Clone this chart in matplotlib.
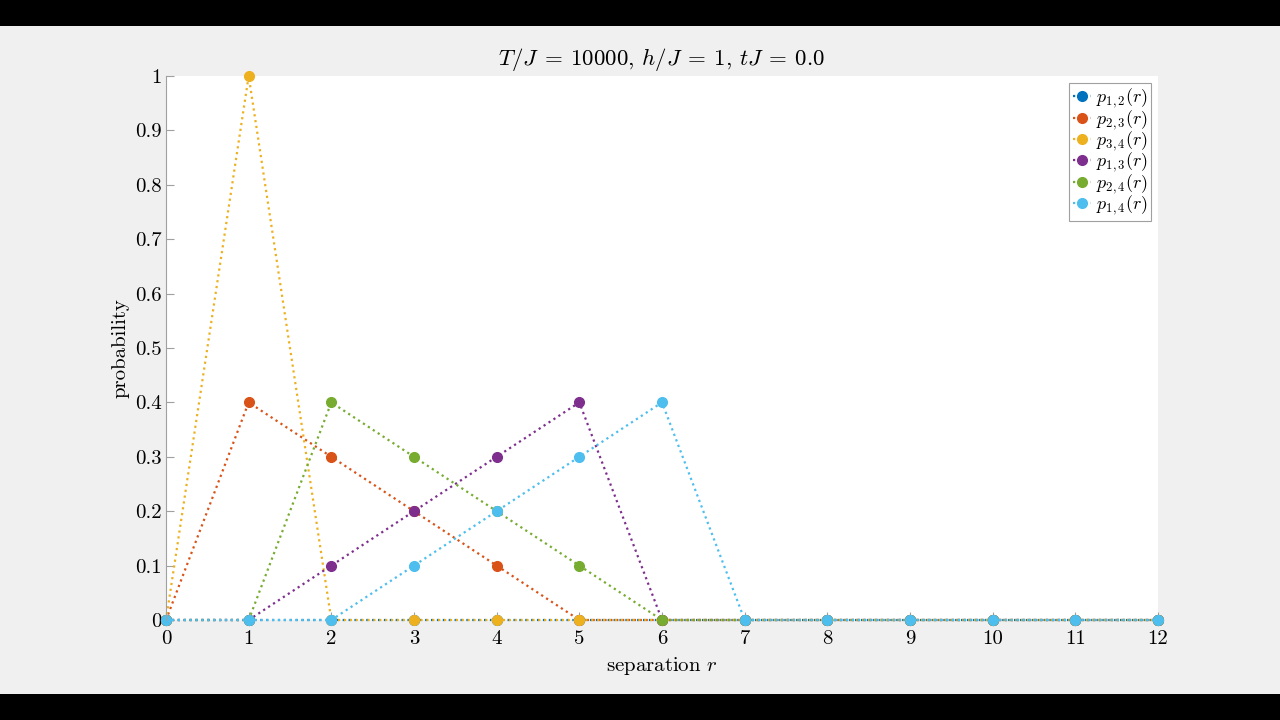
import matplotlib
matplotlib.use("Agg")
import matplotlib.pyplot as plt
from matplotlib.patches import Rectangle

plt.rcParams['mathtext.fontset'] = 'cm'
plt.rcParams['font.family'] = ['cmr10', 'DejaVu Serif']
plt.rcParams['axes.formatter.use_mathtext'] = True

r = list(range(13))
p12 = [0, 0, 0, 0, 0, 0, 0, 0, 0, 0, 0, 0, 0]
p23 = [0, 0.4, 0.3, 0.2, 0.1, 0, 0, 0, 0, 0, 0, 0, 0]
p34 = [0, 1.0, 0, 0, 0, 0, 0, 0, 0, 0, 0, 0, 0]
p13 = [0, 0, 0.1, 0.2, 0.3, 0.4, 0, 0, 0, 0, 0, 0, 0]
p24 = [0, 0, 0.4, 0.3, 0.2, 0.1, 0, 0, 0, 0, 0, 0, 0]
p14 = [0, 0, 0, 0.1, 0.2, 0.3, 0.4, 0, 0, 0, 0, 0, 0]

series = [
    (p12, r'$p_{1,2}(r)$', '#0072BD'),
    (p23, r'$p_{2,3}(r)$', '#D95319'),
    (p34, r'$p_{3,4}(r)$', '#EDB120'),
    (p13, r'$p_{1,3}(r)$', '#7E2F8E'),
    (p24, r'$p_{2,4}(r)$', '#77AC30'),
    (p14, r'$p_{1,4}(r)$', '#4DBEEE'),
]

xticks = list(range(13))
yticks = [0, 0.1, 0.2, 0.3, 0.4, 0.5, 0.6, 0.7, 0.8, 0.9, 1]
ytick_labels = ['0', '0.1', '0.2', '0.3', '0.4', '0.5', '0.6', '0.7', '0.8', '0.9', '1']

fig = plt.figure(figsize=(12.8, 7.2), dpi=100)
fig.patch.set_facecolor('black')
fig.patches.append(Rectangle((0, 26 / 720), 1, (694 - 26) / 720, transform=fig.transFigure,
                             facecolor='#f0f0f0', edgecolor='none', zorder=-10))

ax = fig.add_axes([166 / 1280, 1 - 620 / 720, (1158 - 166) / 1280, (620 - 76) / 720])
ax.set_facecolor('white')

for vals, lab, col in series:
    ax.plot(r, vals, linestyle=':', linewidth=1.6, color=col, marker='o',
            markersize=7, markeredgecolor=col, markerfacecolor=col, label=lab,
            clip_on=False)

ax.set_xlim(0, 12)
ax.set_ylim(0, 1)
ax.set_xticks(xticks)
ax.set_xticklabels([str(x) for x in xticks])
ax.set_yticks(yticks)
ax.set_yticklabels(ytick_labels)

for s in ['top', 'right', 'bottom']:
    ax.spines[s].set_visible(False)
ax.spines['left'].set_color('#a0a0a0')
ax.spines['left'].set_linewidth(0.8)
ax.tick_params(direction='in', length=6, width=0.8, color='#a0a0a0',
               labelsize=15, labelcolor='black', pad=3)
ax.tick_params(axis='x', pad=7)

ax.set_title(r'$T/J\:=\:10000$, $h/J\:=\:1$, $tJ\:=\:0.0$', fontsize=16.5, pad=8)
ax.set_xlabel(r'separation $r$', fontsize=15, labelpad=5)
ax.set_ylabel('probability', fontsize=15, labelpad=4)

leg = ax.legend(loc='upper right', fontsize=13, handlelength=1.0, handletextpad=0.25,
                borderpad=0.2, labelspacing=-0.12, fancybox=False, framealpha=1,
                borderaxespad=0.4)
leg.get_frame().set_edgecolor('#a0a0a0')
leg.get_frame().set_linewidth(0.8)

fig.savefig('out.png', dpi=100, facecolor=fig.get_facecolor())
